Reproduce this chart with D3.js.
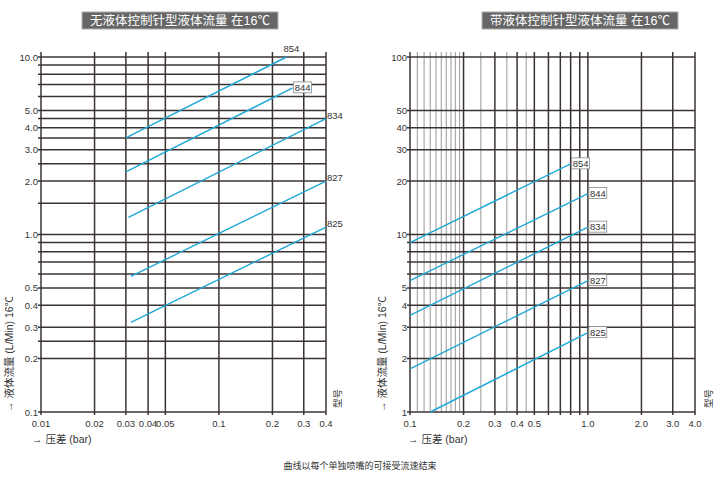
<!DOCTYPE html>
<html>
<head>
<script src="https://d3js.org/d3.v7.min.js"></script>
<style>
  body {margin:0;background:#fff;}
  text {font-family: "Liberation Sans", "Noto Sans CJK SC", sans-serif;}
</style>
</head>
<body>
<svg id="chart" width="720" height="490"></svg>
<script>
// left chart: without flow control needle
let leftXTicks = [0.01, 0.02, 0.03, 0.04, 0.05, 0.1, 0.2, 0.3, 0.4];
let leftXLabels = ["0.01", "0.02", "0.03", "0.04", "0.05", "0.1", "0.2", "0.3", "0.4"];
let leftYGrid = [10, 9, 8, 7, 6, 5, 4.5, 4, 3.5, 3, 2.5, 2, 1.5, 1, 0.9, 0.8, 0.7, 0.6, 0.5, 0.4, 0.3, 0.25, 0.2, 0.1];
let leftYTicks = [10, 5, 4, 3, 2, 1, 0.5, 0.4, 0.3, 0.2, 0.1];
let leftYLabels = ["10.0", "5.0", "4.0", "3.0", "2.0", "1.0", "0.5", "0.4", "0.3", "0.2", "0.1"];
let leftModels = ["854", "844", "834", "827", "825"];
let leftStart = [[0.03, 3.5], [0.03, 2.25], [0.031, 1.25], [0.032, 0.58], [0.032, 0.32]];
let leftEnd = [[0.24, 10], [0.26, 6.7], [0.4, 4.5], [0.4, 2.0], [0.4, 1.1]];

// right chart: with flow control needle
let rightXMajor = [0.1, 0.2, 0.3, 0.4, 0.5, 0.6, 0.7, 0.8, 0.9, 1, 2, 3, 4];
let rightXMinor = [0.11, 0.12, 0.13, 0.14, 0.15, 0.16, 0.17, 0.18, 0.19, 0.25, 0.35, 0.45];
let rightXTicks = [0.1, 0.2, 0.3, 0.4, 0.5, 1, 2, 3, 4];
let rightXLabels = ["0.1", "0.2", "0.3", "0.4", "0.5", "1.0", "2.0", "3.0", "4.0"];
let rightYGrid = [100, 50, 40, 30, 20, 10, 9, 8, 7, 6, 5, 4, 3, 2, 1];
let rightYTicks = [100, 50, 40, 30, 20, 10, 5, 4, 3, 2, 1];
let rightModels = ["854", "844", "834", "827", "825"];
let rightStart = [[0.1, 9], [0.1, 5.5], [0.1, 3.5], [0.1, 1.75], [0.13, 1.0]];
let rightEnd = [[0.8, 25], [1.0, 17], [1.0, 11], [1.0, 5.5], [1.0, 2.8]];

let gridColor = "#3b3333", lineColor = "#1fa8d8";
let svg = d3.select("#chart");

function title(cx, txt) {
  let g = svg.append("g");
  let t = g.append("text").attr("x", cx).attr("y", 25).attr("text-anchor", "middle")
    .attr("font-size", 12.5).attr("fill", "#fff").text(txt);
  let b = t.node().getBBox();
  g.insert("rect", "text").attr("x", b.x - 8).attr("y", 12).attr("width", b.width + 16)
    .attr("height", 17).attr("fill", "#666").attr("stroke", "#aaa");
}

function panel(o) {
  let x = d3.scaleLog().domain(o.xDomain).range([o.left, o.right]);
  let y = d3.scaleLog().domain(o.yDomain).range([412, 57]);
  let g = svg.append("g");

  (o.xMinor || []).forEach(v => g.append("line").attr("x1", x(v)).attr("x2", x(v))
    .attr("y1", 52).attr("y2", 412).attr("stroke", "#aaa").attr("stroke-width", 1.2));
  o.yGrid.forEach(v => g.append("line").attr("x1", o.left - 3).attr("x2", o.right)
    .attr("y1", y(v)).attr("y2", y(v)).attr("stroke", gridColor).attr("stroke-width", 1.5));
  o.xMajor.forEach(v => g.append("line").attr("x1", x(v)).attr("x2", x(v))
    .attr("y1", 52).attr("y2", 415).attr("stroke", gridColor).attr("stroke-width", 1.5));

  o.xTicks.forEach((v, i) => g.append("text").attr("x", x(v)).attr("y", 427)
    .attr("text-anchor", "middle").attr("font-size", 9.5).attr("fill", "#333").text(o.xLabels[i]));
  o.yTicks.forEach((v, i) => g.append("text").attr("x", o.left - 3).attr("y", y(v) + 3.5)
    .attr("text-anchor", "end").attr("font-size", 9.5).attr("fill", "#333").text(o.yLabels[i]));

  let line = d3.line().x(d => x(d[0])).y(d => y(d[1]));
  o.models.forEach((m, i) => {
    g.append("path").attr("d", line([o.start[i], o.end[i]])).attr("fill", "none")
      .attr("stroke", lineColor).attr("stroke-width", 1.4);
    let lx = x(o.end[i][0]) + (o.labelDx ? o.labelDx[i] : 1);
    let ly = y(o.end[i][1]) + (o.labelDy ? o.labelDy[i] : 0);
    let t = g.append("text").attr("x", lx + 1).attr("y", ly).attr("font-size", 9.5)
      .attr("fill", "#333").text(m);
    if (o.boxed[i]) {
      let b = t.node().getBBox();
      g.insert("rect", "text").attr("x", b.x - 1).attr("y", b.y).attr("width", b.width + 2)
        .attr("height", b.height).attr("fill", "#fff").attr("stroke", "#888").attr("stroke-width", 0.8);
    }
  });

  g.append("text").attr("transform", `translate(${o.ylabX},412) rotate(-90)`)
    .attr("font-size", 10.5).attr("fill", "#333").text("→ 液体流量 (L/Min)  16℃");
  g.append("text").attr("x", o.xlabX).attr("y", 443).attr("font-size", 10.5)
    .attr("fill", "#333").text("→ 压差 (bar)");
  g.append("text").attr("transform", `translate(${o.modelX},408) rotate(-90)`)
    .attr("font-size", 9.5).attr("fill", "#333").text("型号");
}

title(180, "无液体控制针型液体流量 在16℃");
title(580, "带液体控制针型液体流量 在16℃");

panel({left: 41, right: 326, xDomain: [0.01, 0.4], yDomain: [0.1, 10],
  xMajor: leftXTicks, xTicks: leftXTicks, xLabels: leftXLabels,
  yGrid: leftYGrid, yTicks: leftYTicks, yLabels: leftYLabels,
  models: leftModels, start: leftStart, end: leftEnd,
  boxed: [false, true, false, false, false],
  labelDx: [-4, 1, 0, 0, 0], labelDy: [-5, 3, 0, 0, 0],
  ylabX: 13, xlabX: 32, modelX: 341});

panel({left: 410, right: 695, xDomain: [0.1, 4], yDomain: [1, 100],
  xMajor: rightXMajor, xMinor: rightXMinor, xTicks: rightXTicks, xLabels: rightXLabels,
  yGrid: rightYGrid, yTicks: rightYTicks, yLabels: rightYTicks.map(String),
  models: rightModels, start: rightStart, end: rightEnd,
  boxed: [true, true, true, true, true],
  labelDx: [1, 1, 1, 1, 1], labelDy: [3, 3, 3, 3, 3],
  ylabX: 386, xlabX: 408, modelX: 712});

svg.append("text").attr("x", 360).attr("y", 469).attr("text-anchor", "middle")
  .attr("font-size", 9).attr("fill", "#333").text("曲线以每个单独喷嘴的可接受流速结束");
</script>
</body>
</html>
